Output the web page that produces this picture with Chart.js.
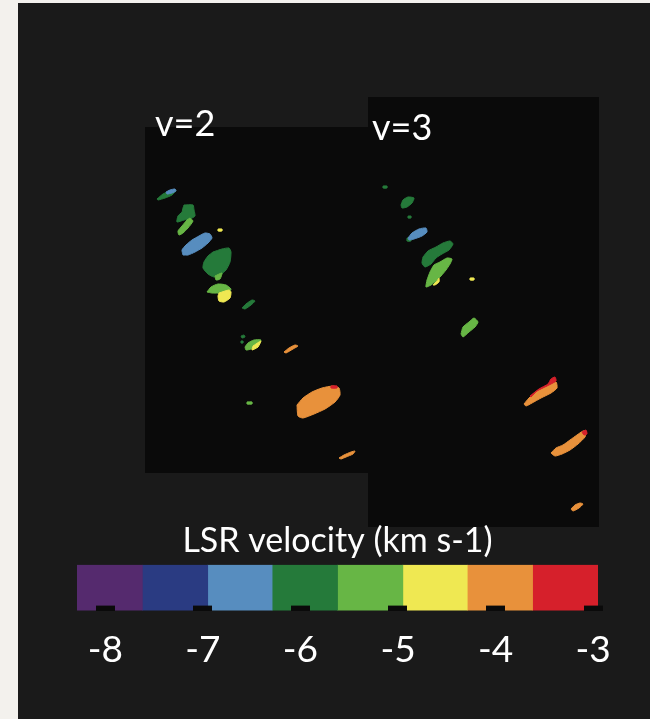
<!DOCTYPE html>
<html>
<head>
<meta charset="utf-8">
<script src="https://cdn.jsdelivr.net/npm/chart.js@4.4.1/dist/chart.umd.min.js"></script>
<style>
  body { margin: 0; background: #f3f1ed; width: 650px; height: 719px; overflow: hidden; position: relative; font-family: Lato, "Open Sans", sans-serif; }
  #frame { position: absolute; left: 18px; top: 3px; width: 632px; height: 716px; background: #1a1a1a; }
  canvas { position: absolute; }
  #panel2 { left: 145px; top: 127px; background: #0a0a0a; }
  #panel3 { left: 368px; top: 97px; background: #0a0a0a; }
  #cbar { left: 40px; top: 515px; }
  .lbl { position: absolute; color: #fff; font-size: 36px; line-height: 36px; white-space: nowrap; }
</style>
</head>
<body>
<div id="frame"></div>
<canvas id="panel2" width="223" height="346"></canvas>
<canvas id="panel3" width="231" height="430"></canvas>
<div class="lbl" style="left:155px; top:104px;">v=2</div>
<div class="lbl" style="left:372px; top:108px;">v=3</div>
<canvas id="cbar" width="600" height="179"></canvas>
<script>
// colour bins of LSR velocity (km s-1)
const vBins = [-8.29, -7.62, -6.95, -6.29, -5.62, -4.95, -4.29, -3.62, -2.95];
const binColors = ['#552a6e', '#2a3b82', '#578dbf', '#257a3a', '#67b645', '#efe852', '#e8913b', '#d6202b'];
const cbarTicks = [-8, -7, -6, -5, -4, -3];

// maser spots, v=2 panel (offsets in panel units, y down)
const v2Velocity = [-6.0, -6.6, -6.0, -5.3, -4.6, -6.6, -6.0, -5.3, -5.3, -4.6, -6.0, -6.0, -6.0, -5.3, -4.6, -4.0, -5.3, -4.0, -3.3, -4.0];
const v2Outline = [
  [[12,72],[18,67],[25,64],[31,63],[27,68],[20,71],[13,73]],
  [[21,65],[25,63],[30,62],[31,64],[27,66],[22,67]],
  [[39,78],[48,78],[49,83],[50,89],[45,92],[39,93],[32,95],[33,89],[37,85],[38,81]],
  [[45,91],[48,94],[43,101],[38,106],[34,108],[33,104],[37,99],[42,93]],
  [[73,102],[77,102],[77,104],[73,104]],
  [[38,128],[37,123],[41,118],[47,113],[54,109],[60,106],[65,107],[67,111],[63,116],[57,121],[50,125],[43,128]],
  [[68,125],[77,122],[84,121],[86,125],[85,135],[81,143],[75,148],[69,150],[63,147],[58,141],[59,135],[63,129]],
  [[70,149],[77,146],[75,152],[71,153]],
  [[62,165],[66,160],[73,157],[81,158],[86,162],[84,165],[76,166],[67,166]],
  [[74,166],[84,163],[86,165],[85,171],[79,175],[74,174],[73,169]],
  [[97,181],[101,177],[107,173],[110,174],[106,178],[100,182]],
  [[96,209],[99,208],[100,210],[97,211]],
  [[96,214],[98,214],[98,216],[96,216]],
  [[100,220],[103,216],[109,213],[116,213],[113,218],[106,222],[101,223]],
  [[108,219],[114,215],[116,214],[113,220],[107,223]],
  [[139,225],[144,221],[150,218],[153,219],[148,222],[141,226]],
  [[102,275],[107,275],[107,277],[102,277]],
  [[152,278],[158,271],[167,265],[177,261],[188,259],[194,261],[195,268],[190,275],[180,282],[169,287],[158,291],[153,289]],
  [[186,259],[192,259],[192,261],[186,261]],
  [[194,331],[199,328],[206,325],[210,324],[208,327],[201,330],[196,332]]
];

// maser spots, v=3 panel
const v3Velocity = [-6.0, -6.0, -6.0, -6.0, -6.6, -6.0, -5.3, -4.6, -4.6, -5.3, -4.0, -3.3, -4.0, -3.3, -4.0];
const v3Outline = [
  [[15,89],[19,89],[19,91],[15,91]],
  [[33,108],[35,103],[40,100],[46,101],[44,106],[39,110],[34,111]],
  [[40,119],[43,119],[43,121],[40,121]],
  [[39,141],[43,141],[43,144],[39,144]],
  [[40,141],[44,136],[51,132],[58,131],[59,135],[54,139],[46,142],[41,143]],
  [[55,160],[60,154],[68,150],[75,146],[82,144],[85,147],[81,153],[74,157],[68,161],[63,167],[57,170],[54,166]],
  [[59,183],[62,175],[66,168],[72,165],[79,161],[84,162],[82,167],[78,173],[73,179],[68,184],[63,188],[58,190]],
  [[65,188],[69,184],[71,181],[71,185],[67,188]],
  [[102,181],[106,181],[106,183],[102,183]],
  [[93,237],[95,230],[101,225],[106,221],[110,225],[107,230],[101,235],[95,240]],
  [[156,307],[161,301],[169,294],[179,289],[188,285],[189,291],[183,296],[173,301],[164,306],[158,309]],
  [[162,299],[171,292],[180,287],[183,282],[187,280],[188,284],[179,289],[169,294],[163,300]],
  [[183,356],[188,351],[195,348],[202,343],[209,338],[215,334],[218,334],[217,340],[210,347],[202,353],[194,357],[187,359]],
  [[214,335],[218,333],[219,337],[216,338]],
  [[203,412],[207,408],[212,406],[215,407],[211,411],[205,414]]
];

const colorFor = (v) => {
  for (let i = 0; i < binColors.length; i++) {
    if (v >= vBins[i] && v < vBins[i + 1]) return binColors[i];
  }
  return binColors[binColors.length - 1];
};

// one filled outline per spot, later spots drawn on top
const spotDatasets = (vels, outlines) => outlines.map((pts, i) => {
  const c = colorFor(vels[i]);
  const data = pts.concat([pts[0]]).map(p => ({ x: p[0], y: p[1] }));
  return { data, order: -i, backgroundColor: c, borderColor: c, borderWidth: 1, fill: 'shape', pointRadius: 0, tension: 0.2 };
});

const panelChart = (id, w, h, vels, outlines) => new Chart(document.getElementById(id), {
  type: 'line',
  data: { datasets: spotDatasets(vels, outlines) },
  options: {
    responsive: false,
    animation: false,
    devicePixelRatio: 1,
    layout: { padding: 0 },
    plugins: { legend: { display: false }, tooltip: { enabled: false } },
    scales: {
      x: { type: 'linear', min: 0, max: w, display: false },
      y: { type: 'linear', min: 0, max: h, reverse: true, display: false }
    }
  }
});

panelChart('panel2', 223, 346, v2Velocity, v2Outline);
panelChart('panel3', 231, 430, v3Velocity, v3Outline);

// colour bar
new Chart(document.getElementById('cbar'), {
  type: 'bar',
  data: {
    labels: [''],
    datasets: binColors.map((c, i) => ({
      data: [[vBins[i], vBins[i + 1]]],
      backgroundColor: c,
      borderWidth: 0,
      barPercentage: 1,
      categoryPercentage: 1,
      grouped: false
    }))
  },
  options: {
    indexAxis: 'y',
    responsive: false,
    animation: false,
    devicePixelRatio: 1,
    layout: { padding: { left: 37, right: 42, top: 0, bottom: 0 } },
    plugins: {
      legend: { display: false },
      tooltip: { enabled: false },
      title: {
        display: true,
        text: 'LSR velocity (km s-1)',
        color: '#ffffff',
        font: { family: 'Lato', size: 34, weight: 'normal' },
        padding: { top: 6, bottom: 3 }
      }
    },
    scales: {
      y: { display: false },
      x: {
        type: 'linear',
        min: vBins[0],
        max: vBins[vBins.length - 1],
        border: { display: false },
        grid: { drawOnChartArea: false, drawTicks: true, tickLength: -5, tickWidth: 19, tickColor: '#0a0a0a', z: 1 },
        afterBuildTicks: (scale) => { scale.ticks = cbarTicks.map(v => ({ value: v })); },
        ticks: { color: '#ffffff', padding: 22, autoSkip: false, maxRotation: 0, font: { family: 'Lato', size: 37 } }
      }
    }
  }
});
</script>
</body>
</html>
